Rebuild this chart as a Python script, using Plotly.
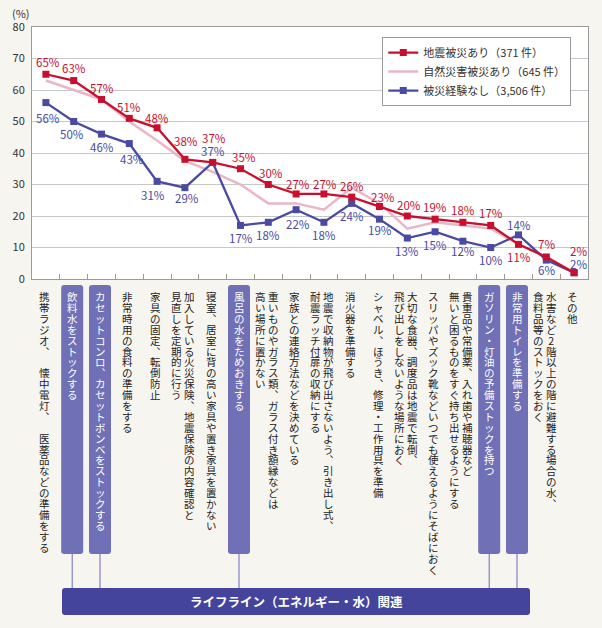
import plotly.graph_objects as go

# ---------------- data ----------------
categories = [
    "携帯ラジオ、　懐中電灯、　医薬品などの準備をする",
    "飲料水をストックする",
    "カセットコンロ、カセットボンベをストックする",
    "非常時用の食料の準備をする",
    "家具の固定、転倒防止",
    "加入している火災保険、地震保険の内容確認と\n見直しを定期的に行う",
    "寝室、居室に背の高い家具や置き家具を置かない",
    "風呂の水をためおきする",
    "重いものやガラス類、ガラス付き額縁などは\n高い場所に置かない",
    "家族との連絡方法などを決めている",
    "地震で収納物が飛び出さないよう、引き出し式、\n耐震ラッチ付扉の収納にする",
    "消火器を準備する",
    "シャベル、ほうき、修理・工作用具を準備",
    "大切な食器、調度品は地震で転倒、\n飛び出しをしないような場所におく",
    "スリッパやズック靴などいつでも使えるようにそばにおく",
    "貴重品や常備薬、入れ歯や補聴器など\n無いと困るものをすぐ持ち出せるようにする",
    "ガソリン・灯油の予備ストックを持つ",
    "非常用トイレを準備する",
    "水害など2階以上の階に避難する場合の水、\n食料品等のストックをおく",
    "その他",
]
lifeline = [False, True, True, False, False, False, False, True, False, False,
            False, False, False, False, False, False, True, True, False, False]

quake = [65, 63, 57, 51, 48, 38, 37, 35, 30, 27, 27, 26, 23, 20, 19, 18, 17, 11, 7, 2]
natural = [63, 60, 57, 50, 44, 37.5, 34, 30, 24, 24, 22, 29, 24, 16, 18, 17, 16, 11, 7, 2]
no_disaster = [56, 50, 46, 43, 31, 29, 37, 17, 18, 22, 18, 24, 19, 13, 15, 12, 10, 14, 6, 2]

series_names = ["地震被災あり（371 件）", "自然災害被災あり（645 件）", "被災経験なし（3,506 件）"]
lifeline_title = "ライフライン（エネルギー・水）関連"
y_ticks = [0, 10, 20, 30, 40, 50, 60, 70, 80]
y_unit = "(%)"

# ---------------- styles / label placement ----------------
RED = "#c8102e"
PINK = "#e8b6c4"
BLUE = "#4a4aa3"
BOX = "#6f70b6"
BANNER = "#44449c"
FONT = "Noto Sans CJK JP"

red_dy = [12, 13, 11, 11, 10, 18, 24, 12, 12, 10, 10, 11, 10, 11, 12, 12, 12, -13, 13, 22]
red_dx = [2, 0, 0, 0, 0, 1, 1, 3, 3, 2, 1, 0, 3, 2, 0, 0, 0, 0, 0, 4]
blue_dy = [-15, -12, -13, -15, -14, -10, 11, -13, -13, -14, -13, -13, -11, -13, -13, -10, -12, 10, -10, 9]
blue_dx = [2, -2, 0, 3, -4, 2, 0, 0, 0, 2, 0, 0, 0, 0, 0, 0, 0, 0, 0, 4]

xcat = [c.replace("\n", "") for c in categories]

fig = go.Figure()
fig.add_trace(go.Scatter(x=xcat, y=natural, mode="lines", name=series_names[1],
                         line=dict(color=PINK, width=2.5), legendrank=2))
fig.add_trace(go.Scatter(x=xcat, y=no_disaster, mode="lines+markers", name=series_names[2],
                         line=dict(color=BLUE, width=2.3),
                         marker=dict(symbol="square", size=7, color=BLUE), legendrank=3))
fig.add_trace(go.Scatter(x=xcat, y=quake, mode="lines+markers", name=series_names[0],
                         line=dict(color=RED, width=2.3),
                         marker=dict(symbol="square", size=7, color=RED), legendrank=1))

annotations = []
# data labels
for i, v in enumerate(quake):
    annotations.append(dict(x=i, y=v, xref="x", yref="y", text=f"{v}%", showarrow=False,
                            xshift=red_dx[i], yshift=red_dy[i],
                            font=dict(family=FONT, size=11.5, color=RED)))
for i, v in enumerate(no_disaster):
    annotations.append(dict(x=i, y=v, xref="x", yref="y", text=f"{v}%", showarrow=False,
                            xshift=blue_dx[i], yshift=blue_dy[i],
                            font=dict(family=FONT, size=11.5, color=BLUE)))

# vertical category labels: one text per column, one glyph per line.
# base font sets the line pitch (1.3 em), inner span sets the glyph size.
PITCH = 10.9
GLYPH = 10.5
vert = {"、": "︑", "。": "︒"}


def vertical(col):
    return "<br>".join(f"<span style='font-size:{GLYPH}px'>{vert.get(ch, ch)}</span>"
                       for ch in col)


shapes = []
for i, cat in enumerate(categories):
    cols = cat.split("\n")
    offs = [-1.5] if len(cols) == 1 else [5.0, -8.0]
    color = "white" if lifeline[i] else "#222222"
    for col, xo in zip(cols, offs):
        annotations.append(dict(x=i, xref="x", y=0, yref="paper", text=vertical(col),
                                showarrow=False, xanchor="center", yanchor="top",
                                xshift=xo, yshift=-9, borderpad=0,
                                font=dict(family=FONT, size=PITCH / 1.3, color=color)))
    if lifeline[i]:
        x0, x1, y0, y1, r = -12.5, 9.5, -275, -6, 3
        path = (f"M{x0+r},{y1} L{x1-r},{y1} Q{x1},{y1} {x1},{y1-r} L{x1},{y0+r} "
                f"Q{x1},{y0} {x1-r},{y0} L{x0+r},{y0} Q{x0},{y0} {x0},{y0+r} "
                f"L{x0},{y1-r} Q{x0},{y1} {x0+r},{y1} Z")
        shapes.append(dict(type="path", path=path, xref="x", xsizemode="pixel", xanchor=i,
                           yref="paper", ysizemode="pixel", yanchor=0,
                           fillcolor=BOX, line=dict(width=0), layer="above"))
        shapes.append(dict(type="line", xref="x", xsizemode="pixel", xanchor=i,
                           x0=-1.5, x1=-1.5, yref="paper", ysizemode="pixel", yanchor=0,
                           y0=-275, y1=-309, line=dict(color="#6b6bc2", width=1)))

# banner
bx0, bx1, by0, by1, br = 30, 498, -336, -309, 3
bpath = (f"M{bx0+br},{by1} L{bx1-br},{by1} Q{bx1},{by1} {bx1},{by1-br} L{bx1},{by0+br} "
         f"Q{bx1},{by0} {bx1-br},{by0} L{bx0+br},{by0} Q{bx0},{by0} {bx0},{by0+br} "
         f"L{bx0},{by1-br} Q{bx0},{by1} {bx0+br},{by1} Z")
shapes.append(dict(type="path", path=bpath, xref="paper", xsizemode="pixel", xanchor=0,
                   yref="paper", ysizemode="pixel", yanchor=0,
                   fillcolor=BANNER, line=dict(width=0)))
annotations.append(dict(x=0, xref="paper", xshift=264, y=0, yref="paper", yshift=-322.5,
                        text=f"<b>{lifeline_title}</b>", showarrow=False,
                        xanchor="center", yanchor="middle",
                        font=dict(family=FONT, size=12.5, color="white")))
# unit
annotations.append(dict(x=0, xref="paper", xshift=-11.5, y=1, yref="paper", yshift=13.7,
                        text=y_unit, showarrow=False, xanchor="center", yanchor="middle",
                        font=dict(family=FONT, size=11, color="#333333")))

fig.update_layout(
    width=602, height=628, autosize=False,
    margin=dict(l=32, r=14, t=27, b=349),
    paper_bgcolor="#f6f5f0", plot_bgcolor="white",
    font=dict(family=FONT, color="#333333"),
    showlegend=True,
    legend=dict(x=0.63, y=0.96, xanchor="left", yanchor="top", bgcolor="white",
                bordercolor="#9a9a9a", borderwidth=1,
                font=dict(family=FONT, size=11, color="#333333"),
                itemwidth=30),
    xaxis=dict(type="category", tickson="boundaries", ticks="inside", ticklen=5,
               tickcolor="#9a9a9a", showticklabels=False, showline=True,
               linecolor="#9a9a9a", mirror=True, showgrid=False,
               range=[-0.5, len(categories) - 0.5], fixedrange=True),
    yaxis=dict(range=[0, 80], tickvals=y_ticks, showgrid=True, gridcolor="#c8c8c8",
               showline=True, linecolor="#9a9a9a", mirror=True, zeroline=False,
               ticks="", ticklabelstandoff=4,
               tickfont=dict(family=FONT, size=11, color="#333333"), fixedrange=True),
    annotations=annotations,
    shapes=shapes,
)

fig.write_html("out.html")
